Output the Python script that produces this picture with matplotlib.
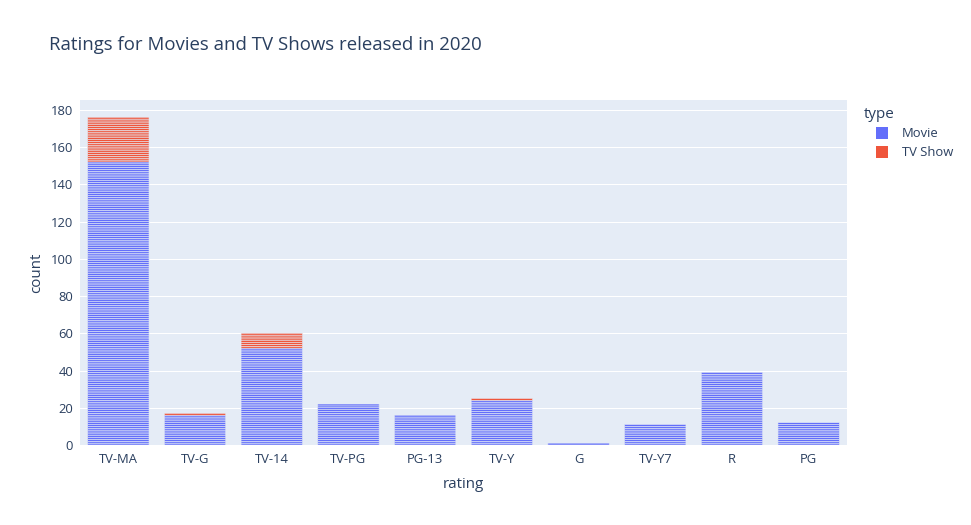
import matplotlib
matplotlib.use("Agg")
import matplotlib.pyplot as plt
import numpy as np
from matplotlib.patches import Rectangle

ratings = ["TV-MA", "TV-G", "TV-14", "TV-PG", "PG-13", "TV-Y", "G", "TV-Y7", "R", "PG"]
movie_counts = [152, 16, 52, 22, 16, 24, 1, 11, 39, 12]
tvshow_counts = [24, 1, 8, 0, 0, 1, 0, 0, 0, 0]
yticks = [0, 20, 40, 60, 80, 100, 120, 140, 160, 180]

MOVIE_C = "#636EFA"
TV_C = "#EF553B"
BG = "#E5ECF6"
TXT = "#2a3f5f"
FONT = ["Open Sans", "DejaVu Sans"]
FS = 1.08

def px(v):
    return v * 72 / 100

plt.rcParams["font.family"] = FONT

W, H = 971, 525
fig = plt.figure(figsize=(W / 100, H / 100), dpi=100)
fig.patch.set_facecolor("white")
L, R, T, B = 80, 847, 100, 445
ax = fig.add_axes([L / W, 1 - B / H, (R - L) / W, (B - T) / H])
ax.set_facecolor(BG)

x = np.arange(len(ratings))
# stacked unit segments (one segment per title), thin background-coloured outline
for xi, mc, tc in zip(x, movie_counts, tvshow_counts):
    if mc:
        bars = ax.bar(np.full(mc, xi), np.ones(mc), bottom=np.arange(mc), width=0.8,
                      color=MOVIE_C, edgecolor=BG, linewidth=px(0.55), zorder=3)
        for b in bars:
            b.set_snap(False)
    if tc:
        bars = ax.bar(np.full(tc, xi), np.ones(tc), bottom=mc + np.arange(tc), width=0.8,
                      color=TV_C, edgecolor=BG, linewidth=px(0.55), zorder=3)
        for b in bars:
            b.set_snap(False)

ax.set_xlim(-0.5, len(ratings) - 0.5)
ax.set_ylim(0, 185.26)
ax.set_xticks(x)
ax.set_xticklabels(ratings)
ax.set_yticks(yticks)
ax.grid(axis="y", color="white", linewidth=px(1), zorder=0)
ax.set_axisbelow(True)
for s in ax.spines.values():
    s.set_visible(False)
ax.tick_params(axis="both", length=0, labelsize=px(12 * FS), labelcolor=TXT)
ax.tick_params(axis="y", pad=5)
ax.tick_params(axis="x", pad=6)
ax.set_xlabel("rating", fontsize=px(14 * FS), color=TXT, labelpad=8)
ax.set_ylabel("count", fontsize=px(14 * FS), color=TXT, labelpad=5)

fig.text(49 / W, 1 - 45 / H, "Ratings for Movies and TV Shows released in 2020",
         fontsize=px(17 * 1.1), color=TXT, ha="left", va="center")

# legend
fig.text(864 / W, 1 - 115 / H, "type", fontsize=px(14 * FS), color=TXT, ha="left", va="center")
for i, (lab, c) in enumerate([("Movie", MOVIE_C), ("TV Show", TV_C)]):
    yc = 133 + i * 19
    fig.patches.append(Rectangle((876 / W, 1 - (yc + 6) / H), 12 / W, 12 / H,
                                 transform=fig.transFigure, facecolor=c,
                                 edgecolor="none"))
    fig.text(902 / W, 1 - yc / H, lab, fontsize=px(12 * FS), color=TXT, ha="left", va="center")

fig.savefig("out.png", dpi=100)
